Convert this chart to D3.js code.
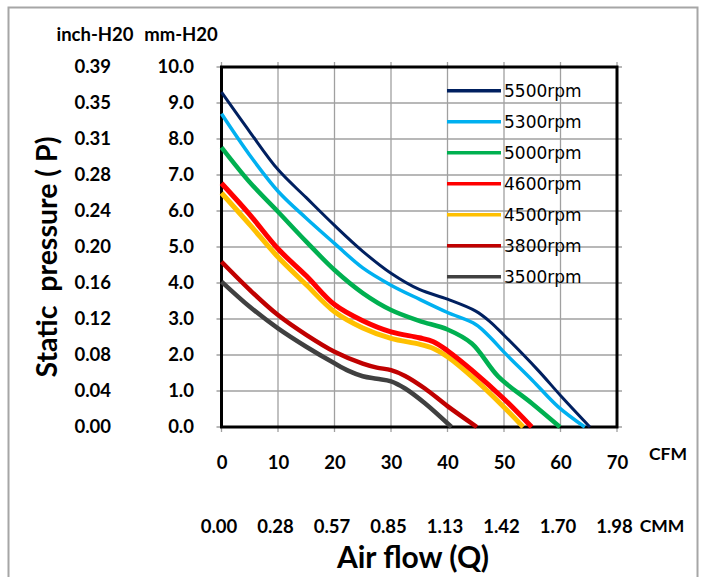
<!DOCTYPE html>
<html>
<head>
<meta charset="utf-8">
<script src="https://cdn.jsdelivr.net/npm/d3@7"></script>
<style>
  body { margin: 0; background: #fff; }
  .lbl { font-family: Lato, "Open Sans", sans-serif; font-weight: 700; fill: #000; }
</style>
</head>
<body>
<script>
// chart values
var cfmTicks = [0, 10, 20, 30, 40, 50, 60, 70];
var cmmLabels = ["0.00", "0.28", "0.57", "0.85", "1.13", "1.42", "1.70", "1.98"];
var mmTicks = [0, 1, 2, 3, 4, 5, 6, 7, 8, 9, 10];
var inchLabels = ["0.00", "0.04", "0.08", "0.12", "0.16", "0.20", "0.24", "0.28", "0.31", "0.35", "0.39"];

var names = ["5500rpm", "5300rpm", "5000rpm", "4600rpm", "4500rpm", "3800rpm", "3500rpm"];
var colors = ["#002060", "#00b0f0", "#00b050", "#ff0000", "#ffc000", "#c00000", "#404040"];
var widths = [3, 3.5, 4.5, 5, 5, 4.5, 4.5];

// [CFM, mm-H2O]
var rpm5500 = [[0,9.3],[5,8.2],[10,7.15],[15,6.37],[20,5.6],[25,4.88],[30,4.27],[35,3.82],[40,3.55],[45,3.22],[47.5,2.93],[50,2.55],[56,1.58],[60.2,0.84],[65.2,0]];
var rpm5300 = [[0,8.7],[5,7.55],[10,6.55],[15,5.8],[20,5.1],[25,4.42],[30,3.94],[35,3.55],[40,3.18],[45,2.85],[47.5,2.5],[50,2.08],[55,1.3],[59.6,0.56],[64.3,0]];
var rpm5000 = [[0,7.77],[5,6.8],[10,5.98],[15,5.15],[20,4.36],[25,3.72],[30,3.25],[35,2.95],[40,2.71],[44.3,2.32],[49,1.4],[54.9,0.66],[59.9,0]];
var rpm4600 = [[0,6.77],[5,5.9],[10,4.95],[15,4.2],[20,3.4],[25,2.95],[30,2.64],[35,2.48],[37.5,2.37],[40,2.12],[44.3,1.58],[50.2,0.75],[54.9,0]];
var rpm4500 = [[0,6.5],[5,5.62],[10,4.72],[15,3.95],[20,3.2],[25,2.75],[30,2.46],[35,2.3],[37.5,2.18],[40,1.95],[45,1.3],[50,0.55],[53.4,0]];
var rpm3800 = [[0,4.59],[5,3.81],[10,3.11],[15,2.56],[20,2.09],[25,1.76],[27.5,1.65],[30,1.58],[32.5,1.42],[36,1.07],[40,0.58],[45.2,0]];
var rpm3500 = [[0,4.04],[5,3.34],[10,2.74],[15,2.23],[20,1.77],[22.5,1.56],[25,1.41],[27.5,1.34],[30,1.27],[32.5,1.07],[36,0.66],[40.7,0]];
var allSeries = [rpm5500, rpm5300, rpm5000, rpm4600, rpm4500, rpm3800, rpm3500];

var width = 705;
var height = 577;

var svg = d3.select("body")
    .append("svg")
    .attr("width", width)
    .attr("height", height);

// outer grey frame
svg.append("rect")
    .attr("x", 8.5)
    .attr("y", 7.5)
    .attr("width", 689)
    .attr("height", 600)
    .style("fill", "none")
    .style("stroke", "#a6a6a6")
    .style("stroke-width", 2);

var x = d3.scaleLinear().domain([0, 70]).range([221.5, 617]);
var y = d3.scaleLinear().domain([0, 10]).range([427, 67]);

// grid lines, sticking out a little past the frame
svg.append("g").selectAll("line")
    .data(cfmTicks)
    .join("line")
    .attr("x1", d => x(d)).attr("x2", d => x(d))
    .attr("y1", y(10) - 5).attr("y2", y(0) + 5)
    .style("stroke", "#a0a0a0")
    .style("stroke-width", 1.3);

svg.append("g").selectAll("line")
    .data(mmTicks)
    .join("line")
    .attr("x1", x(0) - 5).attr("x2", x(70) + 5)
    .attr("y1", d => y(d)).attr("y2", d => y(d))
    .style("stroke", "#a0a0a0")
    .style("stroke-width", 1.3);

// plot frame
svg.append("rect")
    .attr("x", x(0))
    .attr("y", y(10))
    .attr("width", x(70) - x(0))
    .attr("height", y(0) - y(10))
    .style("fill", "none")
    .style("stroke", "#000")
    .style("stroke-width", 3);

// curves (smoothed like the spreadsheet lines)
var line = d3.line()
    .x(d => x(d[0]))
    .y(d => y(d[1]))
    .curve(d3.curveCatmullRom.alpha(0.5));

// draw from the bottom curve up so upper ones sit on top
for (var i = allSeries.length - 1; i >= 0; i--) {
  svg.append("path")
      .attr("d", line(allSeries[i]))
      .style("fill", "none")
      .style("stroke", colors[i])
      .style("stroke-width", widths[i])
      .style("stroke-linejoin", "round");
}

// legend
names.forEach(function(n, i) {
  var ly = 90.7 + i * 31;
  svg.append("line")
      .attr("x1", 447).attr("x2", 501)
      .attr("y1", ly).attr("y2", ly)
      .style("stroke", colors[i])
      .style("stroke-width", 3.5);
  svg.append("text")
      .attr("x", 504)
      .attr("y", ly)
      .attr("dy", "0.36em")
      .style("font-family", "DejaVu Sans, sans-serif")
      .style("font-size", "17px")
      .style("fill", "#000")
      .text(n);
});

// left axes (mm and inch)
var mmAxis = d3.axisLeft(y)
    .tickValues(mmTicks)
    .tickFormat(d3.format(".1f"))
    .tickSize(0)
    .tickPadding(0);

svg.append("g")
    .attr("transform", "translate(194,0)")
    .call(mmAxis)
    .call(g => g.select(".domain").remove())
    .selectAll("text")
    .attr("class", "lbl")
    .style("font-size", "18.5px");

var inchAxis = d3.axisLeft(y)
    .tickValues(mmTicks)
    .tickFormat((d, i) => inchLabels[i])
    .tickSize(0)
    .tickPadding(0);

svg.append("g")
    .attr("transform", "translate(111,0)")
    .call(inchAxis)
    .call(g => g.select(".domain").remove())
    .selectAll("text")
    .attr("class", "lbl")
    .style("font-size", "18.5px");

// bottom axes (CFM and CMM)
var cfmAxis = d3.axisBottom(x)
    .tickValues(cfmTicks)
    .tickFormat(d3.format("d"))
    .tickSize(0)
    .tickPadding(0);

svg.append("g")
    .attr("transform", "translate(0,456)")
    .call(cfmAxis)
    .call(g => g.select(".domain").remove())
    .selectAll("text")
    .attr("class", "lbl")
    .style("font-size", "18.5px");

var cmmAxis = d3.axisBottom(x)
    .tickValues(cfmTicks)
    .tickFormat((d, i) => cmmLabels[i])
    .tickSize(0)
    .tickPadding(0);

svg.append("g")
    .attr("transform", "translate(-3,520)")
    .call(cmmAxis)
    .call(g => g.select(".domain").remove())
    .selectAll("text")
    .attr("class", "lbl")
    .style("font-size", "18.5px");

// unit and axis titles
function label(txt, tx, ty, size, anchor) {
  return svg.append("text")
      .attr("class", "lbl")
      .attr("x", tx)
      .attr("y", ty)
      .attr("text-anchor", anchor || "middle")
      .attr("dy", "0.35em")
      .style("font-size", size + "px")
      .text(txt);
}

label("inch-H20", 95, 35, 18.5);
label("mm-H20", 181, 35, 18.5);
label("CFM", 668, 454, 17.5);
label("CMM", 662, 526, 17.5);
label("Air flow (Q)", 413, 557, 30);

svg.append("text")
    .attr("class", "lbl")
    .attr("transform", "translate(57,257) rotate(-90)")
    .attr("text-anchor", "middle")
    .style("font-size", "28.5px")
    .attr("xml:space", "preserve")
    .style("white-space", "pre")
    .text("Static  pressure ( P)");
</script>
</body>
</html>
